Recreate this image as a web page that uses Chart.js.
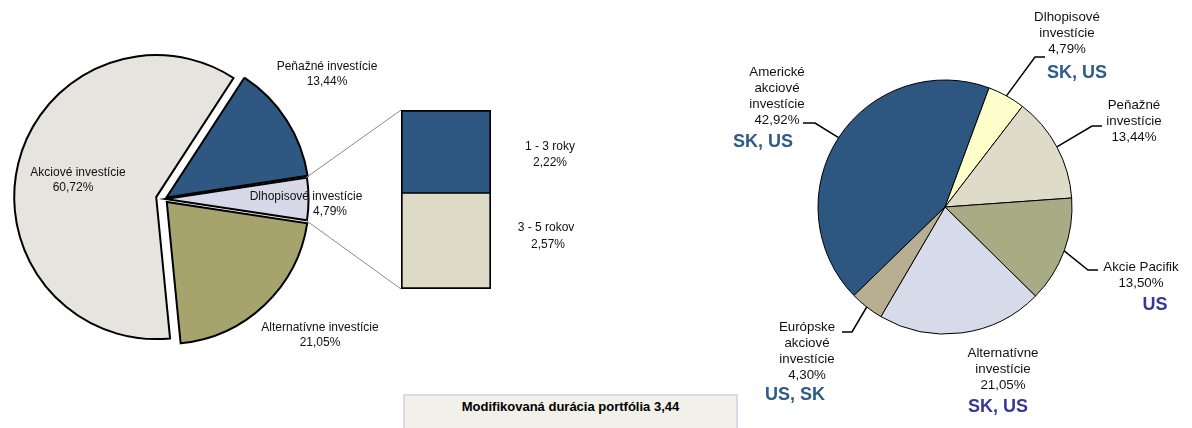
<!DOCTYPE html>
<html lang="sk">
<head>
  <meta charset="UTF-8" />
  <title>Štruktúra portfólia</title>
  <script src="https://cdn.jsdelivr.net/npm/chart.js"></script>
  <style>
    body { margin: 0; background: #fff; }
    #wrap { position: relative; width: 1192px; height: 428px; overflow: hidden; font-family: "Liberation Sans", Arial, sans-serif; }
    #wrap canvas { position: absolute; left: 0; top: 0; }
    #duracia {
      position: absolute; left: 403px; top: 394px; width: 335px; height: 50px;
      box-sizing: border-box; background: #F1F0E9; border: 2px solid #D8DBEA;
      text-align: center; font-weight: bold; font-size: 13px; line-height: 16px; padding-top: 3px; color: #000;
    }
  </style>
</head>
<body>
  <div id="wrap">
    <canvas id="kolacZaklad" width="1192" height="428"></canvas>
    <canvas id="kolacAkcie" width="1192" height="428"></canvas>
    <canvas id="dlhopisy" width="1192" height="428"></canvas>
    <canvas id="regiony" width="1192" height="428"></canvas>
    <div id="duracia">Modifikovaná durácia portfólia 3,44</div>
  </div>

  <script>
    // ľavý koláč - typy investícií
    const typy = ['Akciové investície', 'Peňažné investície', 'Dlhopisové investície', 'Alternatívne investície'];
    const typyPodiely = [60.72, 13.44, 4.79, 21.05];
    const typyFarby = ['#E6E4DE', '#2E5882', '#D7D9E8', '#A6A46C'];

    // rozpad dlhopisov podľa splatnosti
    const splatnosti = ['1 - 3 roky', '3 - 5 rokov'];
    const splatnostiPodiely = [2.22, 2.57];
    const splatnostiFarby = ['#2E5882', '#DDDBC6'];

    // pravý koláč - regióny
    const regiony = [
      ['Americké', 'akciové', 'investície'],
      ['Dlhopisové', 'investície'],
      ['Peňažné', 'investície'],
      ['Akcie Pacifik'],
      ['Alternatívne', 'investície'],
      ['Európske', 'akciové', 'investície']
    ];
    const regionyPodiely = [42.92, 4.79, 13.44, 13.50, 21.05, 4.30];
    const regionyTrhy = ['SK, US', 'SK, US', '', 'US', 'SK, US', 'US, SK'];
    const regionyFarby = ['#2D5680', '#FFFFCC', '#DEDCC8', '#A9AB84', '#D7DAE9', '#B8AE91'];

    const pismo = '"Liberation Sans", Arial, sans-serif';
    const pct = v => v.toFixed(2).replace('.', ',') + '%';

    Chart.defaults.animation = false;
    Chart.defaults.events = [];
    Chart.defaults.plugins.legend.display = false;
    Chart.defaults.plugins.tooltip.enabled = false;

    // stred ľavého koláča 164,199 ; akciová časť vysunutá doľava
    const spolocne = { responsive: false, radius: 142, rotation: 174.4 };

    new Chart(document.getElementById('kolacZaklad'), {
      type: 'pie',
      data: {
        labels: typy,
        datasets: [{
          data: typyPodiely,
          backgroundColor: typyFarby.map((f, i) => i === 0 ? 'rgba(0,0,0,0)' : f),
          borderColor: '#000',
          borderWidth: [0, 2, 2, 2],
          borderJoinStyle: 'miter',
          offset: [0, 12, 6, 16]
        }]
      },
      options: { ...spolocne, layout: { padding: { left: 0, top: 0, right: 1192 - 328, bottom: 30 } } }
    });

    const lavePopisky = [
      [[78, 173], [73, 188]],
      [[327, 67], [327, 82]],
      [[306, 197], [330, 212]],
      [[320, 328], [320, 343]]
    ];

    const kolacAkcie = new Chart(document.getElementById('kolacAkcie'), {
      type: 'pie',
      data: {
        labels: typy,
        datasets: [{
          data: typyPodiely,
          backgroundColor: typyFarby.map((f, i) => i === 0 ? f : 'rgba(0,0,0,0)'),
          borderColor: '#000',
          borderWidth: [2, 0, 0, 0],
          borderJoinStyle: 'miter'
        }]
      },
      options: {
        ...spolocne,
        layout: { padding: { left: 0, top: 0, right: 1192 - 312.4, bottom: 428 - 394.2 } }
      },
      plugins: [{
        id: 'popiskyVlavo',
        afterDraw(chart) {
          const ctx = chart.ctx;
          ctx.save();
          ctx.font = '12px ' + pismo;
          ctx.fillStyle = '#111';
          ctx.textAlign = 'center';
          ctx.textBaseline = 'middle';
          typy.forEach((t, i) => {
            const [p1, p2] = lavePopisky[i];
            ctx.fillText(t, p1[0], p1[1]);
            ctx.fillText(pct(typyPodiely[i]), p2[0], p2[1]);
          });
          ctx.restore();
        }
      }]
    });

    // stĺpec s rozpadom dlhopisov
    const popiskySplatnosti = [
      [[550, 147], [550, 163]],
      [[546, 228], [548, 245]]
    ];

    new Chart(document.getElementById('dlhopisy'), {
      type: 'bar',
      data: {
        labels: ['Dlhopisové investície'],
        datasets: [
          {
            label: splatnosti[1], data: [splatnostiPodiely[1]], backgroundColor: splatnostiFarby[1],
            borderColor: '#000', borderSkipped: false, borderWidth: { top: 1, left: 2, right: 2, bottom: 2 }
          },
          {
            label: splatnosti[0], data: [splatnostiPodiely[0]], backgroundColor: splatnostiFarby[0],
            borderColor: '#000', borderSkipped: false, borderWidth: { top: 2, left: 2, right: 2, bottom: 1 }
          }
        ]
      },
      options: {
        responsive: false,
        layout: { padding: { left: 401, right: 1192 - 491, top: 110, bottom: 428 - 289 } },
        datasets: { bar: { categoryPercentage: 1, barPercentage: 1 } },
        scales: {
          x: { display: false, stacked: true },
          y: { display: false, stacked: true, min: 0, max: 4.79 }
        }
      },
      plugins: [{
        id: 'spojnice',
        beforeDatasetsDraw(chart) {
          const arc = kolacAkcie.getDatasetMeta(0).data[2];
          const horny = chart.getDatasetMeta(1).data[0];
          const dolny = chart.getDatasetMeta(0).data[0];
          const lx = horny.x - horny.width / 2;
          const r = arc.outerRadius;
          // kolacAkcie je posunutý, stred základného koláča je 164,199 (+ malé vysunutie dlhopisov)
          const cx = 165.5, cy = 199;
          const ctx = chart.ctx;
          ctx.save();
          ctx.strokeStyle = '#8a8a8a';
          ctx.lineWidth = 1;
          ctx.beginPath();
          ctx.moveTo(cx + Math.cos(arc.startAngle) * r, cy + Math.sin(arc.startAngle) * r);
          ctx.lineTo(lx, horny.y);
          ctx.moveTo(cx + Math.cos(arc.endAngle) * r, cy + Math.sin(arc.endAngle) * r);
          ctx.lineTo(lx, dolny.base);
          ctx.stroke();
          ctx.restore();
        },
        afterDraw(chart) {
          const ctx = chart.ctx;
          ctx.save();
          ctx.font = '12px ' + pismo;
          ctx.fillStyle = '#111';
          ctx.textAlign = 'center';
          ctx.textBaseline = 'middle';
          splatnosti.forEach((s, i) => {
            const [p1, p2] = popiskySplatnosti[i];
            ctx.fillText(s, p1[0], p1[1]);
            ctx.fillText(pct(splatnostiPodiely[i]), p2[0], p2[1]);
          });
          ctx.restore();
        }
      }]
    });

    // pravý koláč, stred 945,207
    const pravePopisky = [
      { x: 777, y: 72, trh: [763, 142], farba: '#2E5C8A', lom: [[815, 123], [803, 123]] },
      { x: 1067, y: 17, trh: [1077, 73], farba: '#2E5C8A', lom: [[1035, 57], [1045, 57]] },
      { x: 1134, y: 105, trh: null, farba: null, lom: [[1092, 126], [1102, 126]] },
      { x: 1141, y: 267, trh: [1155, 305], farba: '#38389A', lom: [[1088, 270], [1098, 270]] },
      { x: 1003, y: 353, trh: [998, 407], farba: '#38389A', lom: null },
      { x: 807, y: 327, trh: [795, 395], farba: '#2E5C8A', lom: [[852, 332], [842, 332]] }
    ];

    new Chart(document.getElementById('regiony'), {
      type: 'pie',
      data: {
        labels: regiony.map(r => r.join(' ')),
        datasets: [{
          data: regionyPodiely,
          backgroundColor: regionyFarby,
          borderColor: '#000',
          borderWidth: 1,
          borderJoinStyle: 'miter'
        }]
      },
      options: {
        responsive: false,
        radius: 127,
        rotation: 225.8,
        layout: { padding: { left: 2 * 945 - 1192, right: 0, top: 0, bottom: 428 - 414 } }
      },
      plugins: [{
        id: 'popiskyVpravo',
        afterDraw(chart) {
          const ctx = chart.ctx;
          const obluky = chart.getDatasetMeta(0).data;
          ctx.save();
          ctx.strokeStyle = '#000';
          ctx.lineWidth = 1.5;
          pravePopisky.forEach((p, i) => {
            if (!p.lom) return;
            const a = obluky[i];
            const uhol = (a.startAngle + a.endAngle) / 2;
            ctx.beginPath();
            ctx.moveTo(a.x + Math.cos(uhol) * a.outerRadius, a.y + Math.sin(uhol) * a.outerRadius);
            ctx.lineTo(p.lom[0][0], p.lom[0][1]);
            ctx.lineTo(p.lom[1][0], p.lom[1][1]);
            ctx.stroke();
          });
          ctx.textAlign = 'center';
          ctx.textBaseline = 'middle';
          pravePopisky.forEach((p, i) => {
            const riadky = [...regiony[i], pct(regionyPodiely[i])];
            ctx.font = '13.3px ' + pismo;
            ctx.fillStyle = '#111';
            riadky.forEach((t, k) => ctx.fillText(t, p.x, p.y + k * 16));
            if (p.trh && regionyTrhy[i]) {
              ctx.font = 'bold 18px ' + pismo;
              ctx.fillStyle = p.farba;
              ctx.fillText(regionyTrhy[i], p.trh[0], p.trh[1]);
            }
          });
          ctx.restore();
        }
      }]
    });
  </script>
</body>
</html>
